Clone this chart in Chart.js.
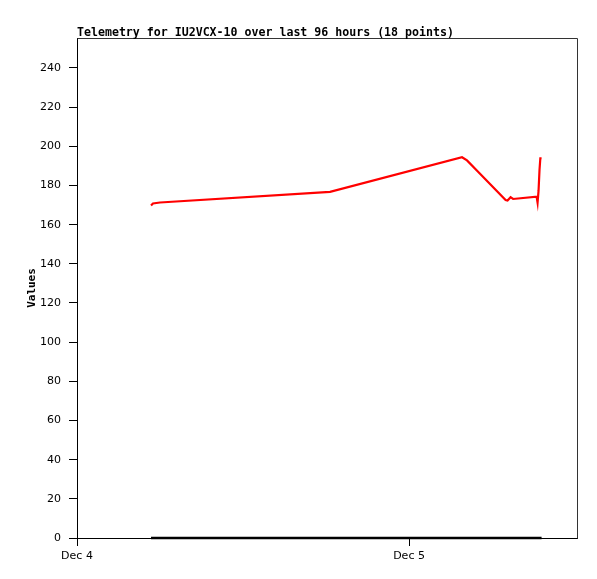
<!DOCTYPE html>
<html>
<head>
<meta charset="utf-8">
<script src="https://cdn.jsdelivr.net/npm/chart.js@4"></script>
<style>
  body { margin: 0; background: #fff; }
  #wrap { width: 597px; height: 579px; }
</style>
</head>
<body>
<div id="wrap"><canvas id="telemetryChart" width="597" height="579"></canvas></div>
<script>
// hours after Dec 4 00:00
const hours = [5.35, 5.49, 6.0, 18.29, 27.83, 28.19, 28.99, 30.98, 31.12, 31.34, 31.52, 33.22, 33.29, 33.36, 33.43, 33.49, 33.58];
const values = [169.8, 170.8, 171.3, 176.7, 194.4, 192.8, 187.0, 172.6, 172.3, 174.0, 173.1, 174.3, 171.2, 177.2, 187.9, 193.9, 193.9];
const zeroValues = [0, 0, 0, 0, 0, 0, 0, 0, 0, 0, 0, 0, 0, 0, 0, 0, 0];
const xTicks = [0, 24];
const xTickLabels = ['Dec 4', 'Dec 5'];
const yTicks = [0, 20, 40, 60, 80, 100, 120, 140, 160, 180, 200, 220, 240];
const chartTitle = 'Telemetry for IU2VCX-10 over last 96 hours (18 points)';

function toPoints(xs, ys) {
    return xs.map((x, i) => ({ x: x, y: ys[i] }));
}

// Title + box around the plot
const frame = {
    id: 'frame',
    afterDraw(chart) {
        const ctx = chart.ctx;
        const a = chart.chartArea;
        ctx.save();
        ctx.strokeStyle = '#333';
        ctx.lineWidth = 1;
        ctx.beginPath();
        ctx.moveTo(Math.round(a.left) + 0.5, Math.round(a.top) + 0.5);
        ctx.lineTo(Math.round(a.right) + 0.5, Math.round(a.top) + 0.5);
        ctx.lineTo(Math.round(a.right) + 0.5, Math.round(a.bottom) + 0.5);
        ctx.stroke();
        ctx.fillStyle = '#000';
        // shrink font so the title spans the same width as the original
        let size = 12;
        ctx.font = 'bold ' + size + 'px "DejaVu Sans Mono", monospace';
        const w = ctx.measureText(chartTitle).width;
        size = size * 377 / w;
        ctx.font = 'bold ' + size.toFixed(2) + 'px "DejaVu Sans Mono", monospace';
        ctx.textBaseline = 'alphabetic';
        ctx.textAlign = 'left';
        ctx.fillText(chartTitle, a.left, a.top - 2);
        ctx.restore();
    }
};

const ctx = document.getElementById('telemetryChart').getContext('2d');
const chart = new Chart(ctx, {
    type: 'line',
    data: {
        datasets: [{
            data: toPoints(hours, zeroValues),
            borderColor: '#000',
            borderWidth: 2.5,
            pointRadius: 0,
            tension: 0,
            clip: 4
        }, {
            data: toPoints(hours, values),
            borderColor: '#ff0000',
            borderWidth: 2.2,
            pointRadius: 0,
            tension: 0,
            clip: 4
        }]
    },
    options: {
        responsive: false,
        animation: false,
        layout: { padding: { top: 38, right: 20, left: 0, bottom: 0 } },
        plugins: {
            legend: { display: false },
            tooltip: { enabled: false }
        },
        scales: {
            x: {
                type: 'linear',
                min: 0,
                max: 36.14,
                afterBuildTicks: axis => { axis.ticks = xTicks.map(v => ({ value: v })); },
                afterFit: scale => { scale.height = 41; },
                ticks: {
                    color: '#000',
                    font: { family: 'DejaVu Sans', size: 11 },
                    padding: 4,
                    maxRotation: 0,
                    callback: v => xTickLabels[xTicks.indexOf(v)]
                },
                grid: { drawOnChartArea: false, tickLength: 8, color: '#000' },
                border: { color: '#000' }
            },
            y: {
                min: 0,
                max: 255.3,
                afterBuildTicks: axis => { axis.ticks = yTicks.map(v => ({ value: v })); },
                afterFit: scale => { scale.width = 77; },
                ticks: {
                    color: '#000',
                    font: { family: 'DejaVu Sans', size: 11 },
                    padding: 8
                },
                grid: { drawOnChartArea: false, tickLength: 8, color: '#000' },
                border: { color: '#000' },
                title: {
                    display: true,
                    text: 'Values',
                    color: '#000',
                    font: { family: 'DejaVu Sans Mono', size: 11, weight: 'bold' },
                    padding: { top: 26, bottom: 0 }
                }
            }
        }
    },
    plugins: [frame]
});
</script>
</body>
</html>
